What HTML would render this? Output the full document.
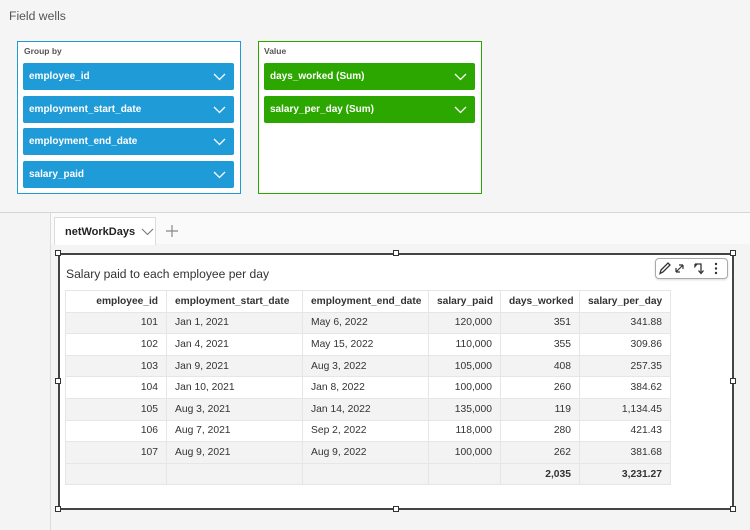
<!DOCTYPE html>
<html><head><meta charset="utf-8"><style>
*{margin:0;padding:0;box-sizing:border-box}
body{width:750px;height:530px;overflow:hidden;background:#f4f4f4;font-family:"Liberation Sans",Arial,sans-serif;position:relative;color:#333}
.abs{position:absolute}
.fw{left:9px;top:9px;font-size:12.2px;color:#555}
.box{position:absolute;background:#fff}
.lbl{position:absolute;font-size:8.5px;font-weight:bold;color:#555}
.pill{position:absolute;height:27px;border-radius:2px;color:#fff;font-size:10px;font-weight:bold;line-height:27px;padding-left:6px}
.pill svg{position:absolute;right:8px;top:10px}
.blue{background:#1f9bd7}
.green{background:#2ba700}
table{border-collapse:collapse;font-size:10.3px;color:#333;table-layout:fixed}
td,th{border:1px solid #e6e6e6;height:21.6px;padding:0 8px;white-space:nowrap;overflow:hidden}
th{font-weight:bold;background:#fff;font-size:10.2px}
.r{text-align:right}
.l{text-align:left}
tr.g td{background:#f3f3f3}
tr.w td{background:#fff}
.h{position:absolute;width:6px;height:6px;border:1px solid #333;background:#fff}
</style></head><body>
<div class="abs" style="left:0;top:0;width:750px;height:212px;background:#f5f5f5"></div>
<div class="abs fw">Field wells</div>

<div class="box" style="left:17px;top:41px;width:224px;height:153px;border:1.5px solid #1f9bd7"></div>
<div class="lbl" style="left:24px;top:46px">Group by</div>
<div class="pill blue" style="left:23px;top:63px;width:211px">employee_id<svg width="13" height="8"><polyline points="1,1 6.5,6.5 12,1" fill="none" stroke="#fff" stroke-width="1.3"/></svg></div>
<div class="pill blue" style="left:23px;top:96px;width:211px">employment_start_date<svg width="13" height="8"><polyline points="1,1 6.5,6.5 12,1" fill="none" stroke="#fff" stroke-width="1.3"/></svg></div>
<div class="pill blue" style="left:23px;top:128px;width:211px">employment_end_date<svg width="13" height="8"><polyline points="1,1 6.5,6.5 12,1" fill="none" stroke="#fff" stroke-width="1.3"/></svg></div>
<div class="pill blue" style="left:23px;top:161px;width:211px">salary_paid<svg width="13" height="8"><polyline points="1,1 6.5,6.5 12,1" fill="none" stroke="#fff" stroke-width="1.3"/></svg></div>

<div class="box" style="left:258px;top:41px;width:224px;height:153px;border:1.5px solid #2ba700"></div>
<div class="lbl" style="left:264px;top:46px">Value</div>
<div class="pill green" style="left:264px;top:63px;width:211px">days_worked (Sum)<svg width="13" height="8"><polyline points="1,1 6.5,6.5 12,1" fill="none" stroke="#fff" stroke-width="1.3"/></svg></div>
<div class="pill green" style="left:264px;top:96px;width:211px">salary_per_day (Sum)<svg width="13" height="8"><polyline points="1,1 6.5,6.5 12,1" fill="none" stroke="#fff" stroke-width="1.3"/></svg></div>

<div class="abs" style="left:0;top:212px;width:750px;height:1px;background:#d6d6d6"></div>
<div class="abs" style="left:51px;top:213px;width:699px;height:31px;background:#fafafa"></div>
<div class="abs" style="left:50px;top:213px;width:1px;height:317px;background:#dcdcdc"></div>
<div class="abs" style="left:54px;top:217px;width:102px;height:28px;background:#fff;border:1px solid #dcdcdc;border-bottom:none"></div>
<div class="abs" style="left:65px;top:226px;font-size:11px;font-weight:bold;color:#222">netWorkDays</div>
<svg class="abs" style="left:141px;top:228px" width="13" height="8"><polyline points="1,1 6.5,6.5 12,1" fill="none" stroke="#777" stroke-width="1.1"/></svg>
<svg class="abs" style="left:165px;top:224px" width="14" height="14"><path d="M7 1V13M1 7H13" stroke="#888" stroke-width="1.2"/></svg>

<div class="abs" style="left:58px;top:253px;width:676px;height:257px;background:#fff;border:2px solid #444"></div>
<div class="h" style="left:55px;top:250px"></div>
<div class="h" style="left:393px;top:250px"></div>
<div class="h" style="left:730px;top:250px"></div>
<div class="h" style="left:55px;top:378px"></div>
<div class="h" style="left:730px;top:378px"></div>
<div class="h" style="left:55px;top:506px"></div>
<div class="h" style="left:393px;top:506px"></div>
<div class="h" style="left:730px;top:506px"></div>

<div class="abs" style="left:66px;top:267px;font-size:12.1px;color:#333">Salary paid to each employee per day</div>

<div class="abs" style="left:655px;top:258px;width:73px;height:21px;border:1px solid #aaa;border-radius:4px;background:#fff;box-shadow:0 1px 2px rgba(0,0,0,.15)"></div>
<svg class="abs" style="left:655px;top:258px" width="73" height="21">
<path d="M5 15.5L6 12L13 5L15 7L8 14Z" fill="none" stroke="#333" stroke-width="1.3"/>
<path d="M21 15L28 8M21 15V11M21 15H25M28 8V12M28 8H24" fill="none" stroke="#333" stroke-width="1.2" transform="translate(0,-1)"/>
<path d="M40 6H46V15M43.5 12.5L46 15.5L48.5 12.5M42 6L40 8.5V6" fill="none" stroke="#333" stroke-width="1.3"/>
<circle cx="61" cy="6" r="1.2" fill="#333"/><circle cx="61" cy="10.5" r="1.2" fill="#333"/><circle cx="61" cy="15" r="1.2" fill="#333"/>
</svg>

<table class="abs" style="left:65px;top:290px;width:605px">
<colgroup><col style="width:101px"><col style="width:136px"><col style="width:126px"><col style="width:72px"><col style="width:79px"><col style="width:91px"></colgroup>
<tr><th class="r">employee_id</th><th class="l">employment_start_date</th><th class="l">employment_end_date</th><th class="r">salary_paid</th><th class="r">days_worked</th><th class="r">salary_per_day</th></tr>
<tr class="g"><td class="r">101</td><td>Jan 1, 2021</td><td>May 6, 2022</td><td class="r">120,000</td><td class="r">351</td><td class="r">341.88</td></tr>
<tr class="w"><td class="r">102</td><td>Jan 4, 2021</td><td>May 15, 2022</td><td class="r">110,000</td><td class="r">355</td><td class="r">309.86</td></tr>
<tr class="g"><td class="r">103</td><td>Jan 9, 2021</td><td>Aug 3, 2022</td><td class="r">105,000</td><td class="r">408</td><td class="r">257.35</td></tr>
<tr class="w"><td class="r">104</td><td>Jan 10, 2021</td><td>Jan 8, 2022</td><td class="r">100,000</td><td class="r">260</td><td class="r">384.62</td></tr>
<tr class="g"><td class="r">105</td><td>Aug 3, 2021</td><td>Jan 14, 2022</td><td class="r">135,000</td><td class="r">119</td><td class="r">1,134.45</td></tr>
<tr class="w"><td class="r">106</td><td>Aug 7, 2021</td><td>Sep 2, 2022</td><td class="r">118,000</td><td class="r">280</td><td class="r">421.43</td></tr>
<tr class="g"><td class="r">107</td><td>Aug 9, 2021</td><td>Aug 9, 2022</td><td class="r">100,000</td><td class="r">262</td><td class="r">381.68</td></tr>
<tr class="g"><td></td><td></td><td></td><td></td><td class="r"><b>2,035</b></td><td class="r"><b>3,231.27</b></td></tr>
</table>
</body></html>
